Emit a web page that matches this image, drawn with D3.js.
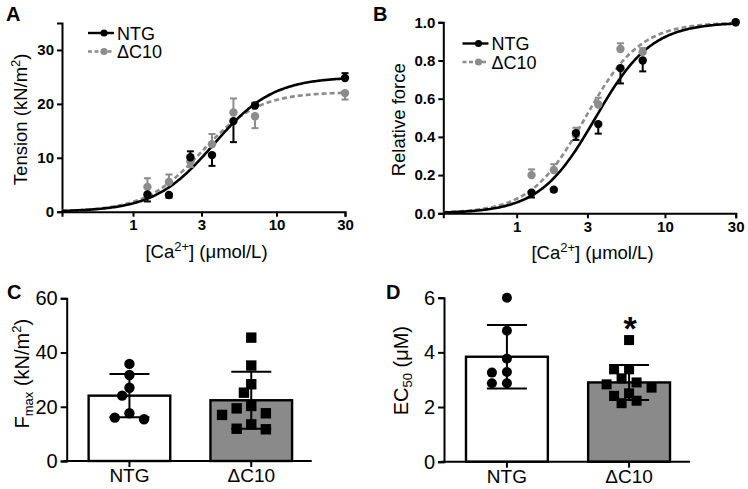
<!DOCTYPE html>
<html>
<head>
<meta charset="utf-8">
<script src="https://cdn.jsdelivr.net/npm/d3@7"></script>
<style>
  body { margin: 0; background: #fff; }
  svg { font-family: "Liberation Sans", Arial, sans-serif; }
</style>
</head>
<body>
<svg id="fig"></svg>
<script>
// calcium concentrations (umol/L) used in A and B
const caConc = [1.26, 1.78, 2.51, 3.55, 5.01, 7.08, 30];

// A: tension (kN/m2), mean and SEM; dir = side the error bar is drawn on
const tensionNTG = [3.2, 3.1, 10.1, 10.5, 16.8, 19.7, 24.8];
const tensionNTGErr = [1.3, 0.5, 1.1, 2.0, 3.9, 0.5, 0.9];
const tensionNTGDir = [-1, -1, 1, -1, -1, 1, 1];
const tensionC10 = [4.6, 5.5, 9.3, 12.5, 18.4, 17.7, 22.0];
const tensionC10Err = [1.6, 1.4, 1.0, 1.9, 2.6, 2.2, 1.2];
const tensionC10Dir = [1, 1, -1, 1, 1, -1, -1];

// B: relative force
const relNTG = [0.108, 0.124, 0.42, 0.467, 0.76, 0.80, 1.0];
const relNTGErr = [0.025, 0.01, 0.036, 0.05, 0.08, 0.057, 0];
const relNTGDir = [-1, -1, -1, -1, -1, -1, 1];
const relC10 = [0.20, 0.227, 0.41, 0.57, 0.86, 0.845, 1.0];
const relC10Err = [0.03, 0.03, 0.038, 0.035, 0.03, 0.02, 0];
const relC10Dir = [1, 1, 1, 1, 1, 1, 1];

// Hill fits [NTG, dC10]: top, EC50, hill coefficient
const fitTopA = [25.0, 22.2], fitEc50A = [3.65, 3.0], fitHillA = [2.1, 2.2];
const fitTopB = [1.0, 1.0], fitEc50B = [3.4, 2.9], fitHillB = [2.3, 2.35];

// C and D
const groups = ["NTG", "ΔC10"];
const fmaxNTG = [31.7, 35.8, 27.0, 24.1, 17.6, 15.4, 16.0];
const fmaxC10 = [45.5, 35.2, 28.3, 25.2, 19.4, 20.3, 17.6, 17.0, 13.5, 11.7, 11.9];
const fmaxMean = [24.1, 22.4], fmaxSd = [8.0, 10.5];
const ec50NTG = [6.0, 4.79, 3.77, 3.26, 3.28, 2.87, 2.87];
const ec50C10 = [4.45, 3.38, 3.38, 3.05, 2.83, 2.90, 2.71, 2.41, 2.50, 2.23, 2.14];
const ec50Mean = [3.84, 2.90], ec50Sd = [1.16, 0.64];

const grey = "#8c8c8c";
const svg = d3.select("#fig").attr("width", 748).attr("height", 489);

function styleAxis(g, size, weight) {
  g.selectAll("path, line").attr("stroke", "#000").attr("stroke-width", 2);
  g.selectAll("text").attr("fill", "#000").style("font-size", size + "px")
    .style("font-weight", weight).style("font-family", "'Liberation Sans', Arial, sans-serif");
}

function letter(t, x, y) {
  svg.append("text").attr("x", x).attr("y", y).text(t)
    .style("font-size", "20px").style("font-weight", "bold");
}

function curvePanel(p) {
  const x = d3.scaleLog().domain([0.32, 30]).range([p.x0, p.x1]);
  const y = d3.scaleLinear().domain([0, p.ymax]).range([p.y0, p.y1]);
  const g = svg.append("g");

  g.append("g").attr("transform", `translate(0,${p.y0})`)
    .call(d3.axisBottom(x).tickValues([1, 3, 10, 30]).tickFormat(d3.format("d")).tickSizeOuter(0).tickSize(5).tickPadding(3))
    .call(a => styleAxis(a, 15, "bold"));
  g.append("g").attr("transform", `translate(${p.x0},0)`)
    .call(d3.axisLeft(y).tickValues(p.yticks).tickFormat(p.yfmt).tickSizeOuter(0).tickSize(5).tickPadding(3))
    .call(a => styleAxis(a, 15, "bold"));

  const line = d3.line().x(d => x(d[0])).y(d => y(d[1]));
  const xs = d3.range(0, 201).map(i => 0.32 * Math.pow(30 / 0.32, i / 200));
  [1, 0].forEach(k => {
    const pts = xs.map(c => [c, p.top[k] * Math.pow(c, p.n[k]) / (Math.pow(c, p.n[k]) + Math.pow(p.ec50[k], p.n[k]))]);
    g.append("path").attr("d", line(pts)).attr("fill", "none")
      .attr("stroke", k ? grey : "#000").attr("stroke-width", 2.6)
      .attr("stroke-dasharray", k ? "5,3" : null);
  });

  [[p.c10, p.c10Err, p.c10Dir, grey], [p.ntg, p.ntgErr, p.ntgDir, "#000"]].forEach(([v, e, dir, col]) => {
    const s = g.append("g");
    caConc.forEach((c, i) => {
      if (e[i] <= 0) return;
      const yy = y(v[i] + dir[i] * e[i]);
      s.append("line").attr("x1", x(c)).attr("x2", x(c)).attr("y1", y(v[i])).attr("y2", yy)
        .attr("stroke", col).attr("stroke-width", 2);
      s.append("line").attr("x1", x(c) - 3.5).attr("x2", x(c) + 3.5).attr("y1", yy).attr("y2", yy)
        .attr("stroke", col).attr("stroke-width", 2);
    });
    s.selectAll("circle").data(v).join("circle")
      .attr("cx", (d, i) => x(caConc[i])).attr("cy", d => y(d)).attr("r", 4.2).attr("fill", col);
  });

  // legend
  groups.forEach((name, k) => {
    const ly = p.legY + k * 18.5, col = k ? grey : "#000";
    g.append("line").attr("x1", p.legX).attr("x2", p.legX + 26).attr("y1", ly).attr("y2", ly)
      .attr("stroke", col).attr("stroke-width", 2.4).attr("stroke-dasharray", k ? "4,2.5" : null);
    g.append("circle").attr("cx", p.legX + 16).attr("cy", ly).attr("r", 3.6).attr("fill", col);
    g.append("text").attr("x", p.legX + 29).attr("y", ly + 6.5).text(name).style("font-size", "18px");
  });

  // titles
  const xt = g.append("text").attr("x", (p.x0 + p.x1) / 2 + 3).attr("y", p.y0 + 46)
    .attr("text-anchor", "middle").style("font-size", "18.5px");
  xt.append("tspan").text("[Ca");
  xt.append("tspan").text("2+").attr("dy", -7).style("font-size", "13px");
  xt.append("tspan").text("] (μmol/L)").attr("dy", 7);

  const yt = g.append("text").attr("transform", `translate(${p.ytx},${(p.y0 + p.y1) / 2 + 2}) rotate(-90)`)
    .attr("text-anchor", "middle").style("font-size", "18.5px");
  p.ytitle(yt);
}

curvePanel({
  x0: 62, x1: 345, y0: 211.7, y1: 23, ymax: 35, yticks: [0, 10, 20, 30], yfmt: d3.format("d"),
  ntg: tensionNTG, ntgErr: tensionNTGErr, ntgDir: tensionNTGDir,
  c10: tensionC10, c10Err: tensionC10Err, c10Dir: tensionC10Dir,
  top: fitTopA, ec50: fitEc50A, n: fitHillA, legX: 88, legY: 33, ytx: 27,
  ytitle: t => {
    t.append("tspan").text("Tension (kN/m");
    t.append("tspan").text("2").attr("dy", -7).style("font-size", "13px");
    t.append("tspan").text(")").attr("dy", 7);
  }
});

curvePanel({
  x0: 443.3, x1: 735.7, y0: 213.3, y1: 22.3, ymax: 1, yticks: [0, 0.2, 0.4, 0.6, 0.8, 1.0], yfmt: d3.format(".1f"),
  ntg: relNTG, ntgErr: relNTGErr, ntgDir: relNTGDir,
  c10: relC10, c10Err: relC10Err, c10Dir: relC10Dir,
  top: fitTopB, ec50: fitEc50B, n: fitHillB, legX: 462.5, legY: 43.5, ytx: 405,
  ytitle: t => t.text("Relative force")
});

// simple dodge so points with similar values sit side by side
function dodge(values, y, cx, r, step) {
  const placed = [];
  const order = values.map((v, i) => i).sort((a, b) => values[b] - values[a]);
  order.forEach(i => {
    const py = y(values[i]);
    for (let k = 0; k < 20; k++) {
      const off = (k % 2 ? -1 : 1) * Math.ceil(k / 2) * step;
      const px = cx + off;
      if (placed.every(q => Math.hypot(q.x - px, q.y - py) >= 2 * r)) {
        placed.push({ x: px, y: py, i });
        break;
      }
    }
  });
  return placed;
}

function barPanel(p) {
  const x = d3.scaleBand().domain(groups).range([p.x0, p.x1]).paddingInner(0.33).paddingOuter(0.18);
  const y = d3.scaleLinear().domain([0, p.ymax]).range([p.y0, p.y1]);
  const g = svg.append("g");

  g.selectAll("rect").data(p.mean).join("rect")
    .attr("x", (d, i) => x(groups[i])).attr("width", x.bandwidth())
    .attr("y", d => y(d)).attr("height", d => p.y0 - y(d))
    .attr("fill", (d, i) => i ? "#8a8a8a" : "#fff").attr("stroke", "#000").attr("stroke-width", 2.4);

  const ax = g.append("g").attr("transform", `translate(0,${p.y0})`)
    .call(d3.axisBottom(x).tickSizeOuter(0).tickSize(6).tickPadding(2))
    .call(a => styleAxis(a, 19, "normal"));
  ax.select(".domain").remove();
  g.append("line").attr("x1", p.x0 - 3).attr("x2", p.xEnd).attr("y1", p.y0).attr("y2", p.y0)
    .attr("stroke", "#000").attr("stroke-width", 2);
  g.append("g").attr("transform", `translate(${p.x0},0)`)
    .call(d3.axisLeft(y).tickValues(p.yticks).tickFormat(d3.format("d")).tickSizeOuter(0).tickSize(6).tickPadding(3))
    .call(a => styleAxis(a, 20, "normal"));

  [p.ptsNTG, p.ptsC10].forEach((vals, k) => {
    const cx = x(groups[k]) + x.bandwidth() / 2;
    const pl = dodge(vals, y, cx, p.r, p.step);
    if (k === 0) {
      g.selectAll(".pn").data(pl).join("circle").attr("class", "pn")
        .attr("cx", d => d.x).attr("cy", d => d.y).attr("r", p.r).attr("fill", "#000");
    } else {
      g.selectAll(".pc").data(pl).join("rect").attr("class", "pc")
        .attr("x", d => d.x - p.r).attr("y", d => d.y - p.r)
        .attr("width", 2 * p.r).attr("height", 2 * p.r).attr("fill", "#000");
    }
    const m = p.mean[k], sd = p.sd[k];
    g.append("line").attr("x1", cx).attr("x2", cx).attr("y1", y(m + sd)).attr("y2", y(m - sd))
      .attr("stroke", "#000").attr("stroke-width", 2);
    [m + sd, m - sd].forEach(v => g.append("line").attr("x1", cx - 20).attr("x2", cx + 20)
      .attr("y1", y(v)).attr("y2", y(v)).attr("stroke", "#000").attr("stroke-width", 2));
  });

  const yt = g.append("text").attr("transform", `translate(${p.ytx},${(p.y0 + p.y1) / 2 + p.ytdy}) rotate(-90)`)
    .attr("text-anchor", "middle").style("font-size", "20px");
  p.ytitle(yt);
}

barPanel({
  x0: 66.7, x1: 314, xEnd: 311.7, y0: 461, y1: 298.3, ymax: 60, yticks: [0, 20, 40, 60],
  mean: fmaxMean, sd: fmaxSd, ptsNTG: fmaxNTG, ptsC10: fmaxC10, r: 5.2, step: 7.3, ytx: 29, ytdy: -6,
  ytitle: t => {
    t.append("tspan").text("F");
    t.append("tspan").text("max").attr("dy", 4).style("font-size", "13px");
    t.append("tspan").text(" (kN/m").attr("dy", -4);
    t.append("tspan").text("2").attr("dy", -8).style("font-size", "13px");
    t.append("tspan").text(")").attr("dy", 8);
  }
});

barPanel({
  x0: 444, x1: 692, xEnd: 690, y0: 461.7, y1: 297.7, ymax: 6, yticks: [0, 2, 4, 6],
  mean: ec50Mean, sd: ec50Sd, ptsNTG: ec50NTG, ptsC10: ec50C10, r: 5, step: 7.5, ytx: 408, ytdy: -9,
  ytitle: t => {
    t.append("tspan").text("EC");
    t.append("tspan").text("50").attr("dy", 4).style("font-size", "13px");
    t.append("tspan").text(" (μM)").attr("dy", -4);
  }
});

// significance mark
svg.append("text").attr("x", 630).attr("y", 340).attr("text-anchor", "middle")
  .text("*").style("font-size", "34px").style("font-weight", "bold");

letter("A", 6, 21);
letter("B", 373, 21);
letter("C", 7, 299);
letter("D", 386, 299);
</script>
</body>
</html>
